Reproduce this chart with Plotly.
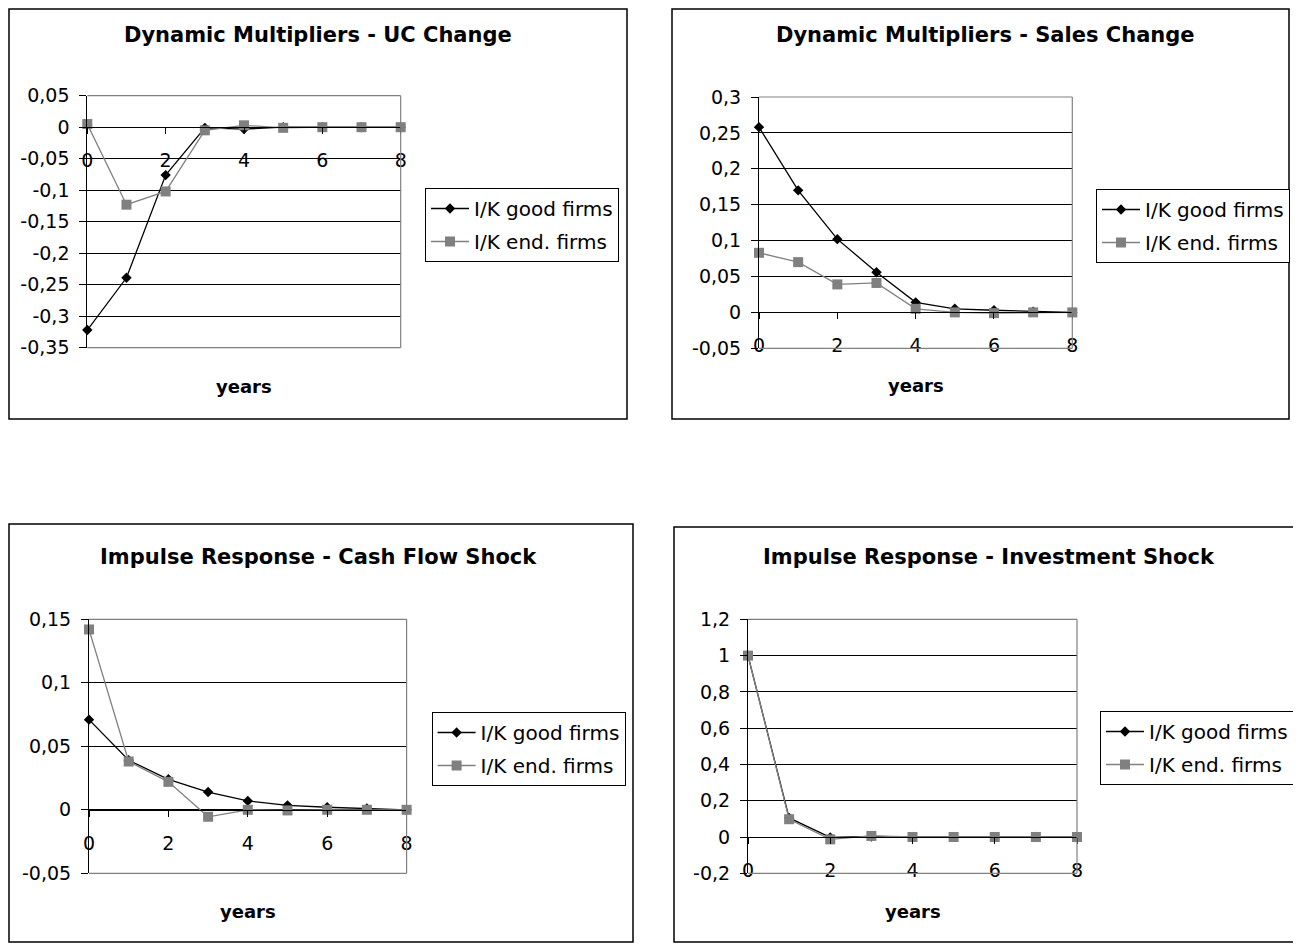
import plotly.graph_objects as go

# ---------------- data ----------------
years = [0, 1, 2, 3, 4, 5, 6, 7, 8]
x_ticks = [0, 2, 4, 6, 8]
x_labels = ["0", "2", "4", "6", "8"]

series_names = ["I/K good firms", "I/K end. firms"]

uc_good = [-0.322, -0.239, -0.076, -0.001, -0.003, 0.000, 0.000, 0.000, 0.000]
uc_end = [0.005, -0.123, -0.102, -0.005, 0.003, -0.001, 0.000, 0.000, 0.000]
uc_ticks = [0.05, 0, -0.05, -0.1, -0.15, -0.2, -0.25, -0.3, -0.35]
uc_labels = ["0,05", "0", "-0,05", "-0,1", "-0,15", "-0,2", "-0,25", "-0,3", "-0,35"]

sales_good = [0.258, 0.170, 0.102, 0.056, 0.014, 0.005, 0.003, 0.001, 0.000]
sales_end = [0.083, 0.070, 0.039, 0.041, 0.005, 0.000, -0.001, 0.000, 0.000]
sales_ticks = [0.3, 0.25, 0.2, 0.15, 0.1, 0.05, 0, -0.05]
sales_labels = ["0,3", "0,25", "0,2", "0,15", "0,1", "0,05", "0", "-0,05"]

cf_good = [0.071, 0.039, 0.024, 0.014, 0.007, 0.0035, 0.002, 0.001, 0.000]
cf_end = [0.142, 0.038, 0.022, -0.0055, 0.000, -0.0005, 0.000, 0.000, 0.000]
cf_ticks = [0.15, 0.1, 0.05, 0, -0.05]
cf_labels = ["0,15", "0,1", "0,05", "0", "-0,05"]

inv_good = [1.000, 0.105, -0.002, 0.003, 0.000, 0.000, 0.000, 0.000, 0.000]
inv_end = [1.000, 0.098, -0.013, 0.006, 0.000, 0.000, 0.000, 0.000, 0.000]
inv_ticks = [1.2, 1, 0.8, 0.6, 0.4, 0.2, 0, -0.2]
inv_labels = ["1,2", "1", "0,8", "0,6", "0,4", "0,2", "0", "-0,2"]

titles = [
    "Dynamic Multipliers - UC Change",
    "Dynamic Multipliers - Sales Change",
    "Impulse Response - Cash Flow Shock",
    "Impulse Response - Investment Shock",
]
x_title = "years"

# ---------------- layout geometry (page pixels) ----------------
OFF = 8                      # default body margin of the html page
W, H = 1301 - OFF, 945 - OFF
FONT = "DejaVu Sans"
GRAY = "#808080"

panels = [
    dict(good=uc_good, end=uc_end, yt=uc_ticks, ytl=uc_labels,
         plot=(87.3, 95.7, 400.7, 347.7), box=(9, 9, 627, 419),
         legend=(425, 188), tpos=(318, 35), ypos=(244, 386.5)),
    dict(good=sales_good, end=sales_end, yt=sales_ticks, ytl=sales_labels,
         plot=(759, 97, 1072.3, 348.3), box=(672, 9, 1289, 419),
         legend=(1096, 189), tpos=(985, 35), ypos=(915.6, 386)),
    dict(good=cf_good, end=cf_end, yt=cf_ticks, ytl=cf_labels,
         plot=(89, 619.3, 406.6, 873.3), box=(9, 524, 633, 942),
         legend=(431.6, 712), tpos=(318, 557), ypos=(248, 911)),
    dict(good=inv_good, end=inv_end, yt=inv_ticks, ytl=inv_labels,
         plot=(748, 619.3, 1077, 873.3), box=(674, 527, 1297, 942),
         legend=(1100, 711), tpos=(989, 557), ypos=(913, 911)),
]


def px(x):
    return (x - OFF) / W


def py(y):
    return 1 - (y - OFF) / H


fig = go.Figure()
layout = dict(
    width=W, height=H,
    margin=dict(l=0, r=0, t=0, b=0, autoexpand=False),
    paper_bgcolor="white", plot_bgcolor="white",
    font=dict(family=FONT, color="black", size=19),
    showlegend=True,
)
shapes = []
annotations = []

for i, p in enumerate(panels, start=1):
    sfx = "" if i == 1 else str(i)
    xa, ya = "x" + sfx, "y" + sfx
    leg = "legend" if i == 1 else f"legend{i}"

    fig.add_trace(go.Scatter(
        x=years, y=p["good"], xaxis=xa, yaxis=ya, name=series_names[0],
        mode="lines+markers", line=dict(color="black", width=1.3),
        marker=dict(symbol="diamond", size=8, color="black"),
        legend=leg, legendgroup=f"g{i}a", cliponaxis=False))
    fig.add_trace(go.Scatter(
        x=years, y=p["end"], xaxis=xa, yaxis=ya, name=series_names[1],
        mode="lines+markers", line=dict(color=GRAY, width=1.3),
        marker=dict(symbol="square", size=10, color=GRAY),
        legend=leg, legendgroup=f"g{i}b", cliponaxis=False))

    x0, y0, x1, y1 = p["plot"]
    ymin, ymax = min(p["yt"]), max(p["yt"])
    ydom = [py(y1), py(y0)]
    zero_pos = ydom[0] + (0 - ymin) / (ymax - ymin) * (ydom[1] - ydom[0])

    layout["xaxis" + sfx] = dict(
        domain=[px(x0), px(x1)], range=[0, 8], anchor="free", position=zero_pos,
        tickvals=x_ticks, ticktext=x_labels, ticks="outside", ticklen=6,
        tickcolor="black", showline=True, linecolor="black", linewidth=1,
        showgrid=False, zeroline=False, ticklabelstandoff=10,
        tickfont=dict(family=FONT, size=19, color="black"), fixedrange=True)
    layout["yaxis" + sfx] = dict(
        domain=ydom, range=[ymin, ymax], anchor=xa,
        tickvals=p["yt"], ticktext=p["ytl"], ticks="outside", ticklen=7,
        tickcolor="black", showline=True, linecolor="black", linewidth=1,
        showgrid=True, gridcolor="black", gridwidth=1, zeroline=False,
        ticklabelstandoff=6,
        tickfont=dict(family=FONT, size=19, color="black"), fixedrange=True)

    lx, ly = p["legend"]
    layout[leg] = dict(
        x=px(lx), y=py(ly), xanchor="left", yanchor="top",
        bordercolor="black", borderwidth=1, bgcolor="white",
        font=dict(family=FONT, size=20, color="black"),
        tracegroupgap=4, itemwidth=38, traceorder="grouped")

    bx0, by0, bx1, by1 = p["box"]
    shapes.append(dict(type="rect", xref="paper", yref="paper",
                       x0=px(bx0), x1=px(bx1), y0=py(by1), y1=py(by0),
                       line=dict(color="black", width=1.5), layer="below"))
    # gray plot-area border: top, right, bottom (left is the black value axis)
    for sx0, sy0, sx1, sy1 in [(0, 1, 1, 1), (1, 0, 1, 1), (0, 0, 1, 0)]:
        shapes.append(dict(type="line", xref=f"{xa} domain", yref=f"{ya} domain",
                           x0=sx0, y0=sy0, x1=sx1, y1=sy1,
                           line=dict(color=GRAY, width=1.2), layer="above"))

    tx, ty = p["tpos"]
    annotations.append(dict(text=f"<b>{titles[i-1]}</b>", x=px(tx), y=py(ty),
                            xref="paper", yref="paper", showarrow=False,
                            xanchor="center", yanchor="middle",
                            font=dict(family=FONT, size=21, color="black")))
    yx, yy = p["ypos"]
    annotations.append(dict(text=f"<b>{x_title}</b>", x=px(yx), y=py(yy),
                            xref="paper", yref="paper", showarrow=False,
                            xanchor="center", yanchor="middle",
                            font=dict(family=FONT, size=18, color="black")))

layout["shapes"] = shapes
layout["annotations"] = annotations
fig.update_layout(**layout)

fig.write_html("out.html")
